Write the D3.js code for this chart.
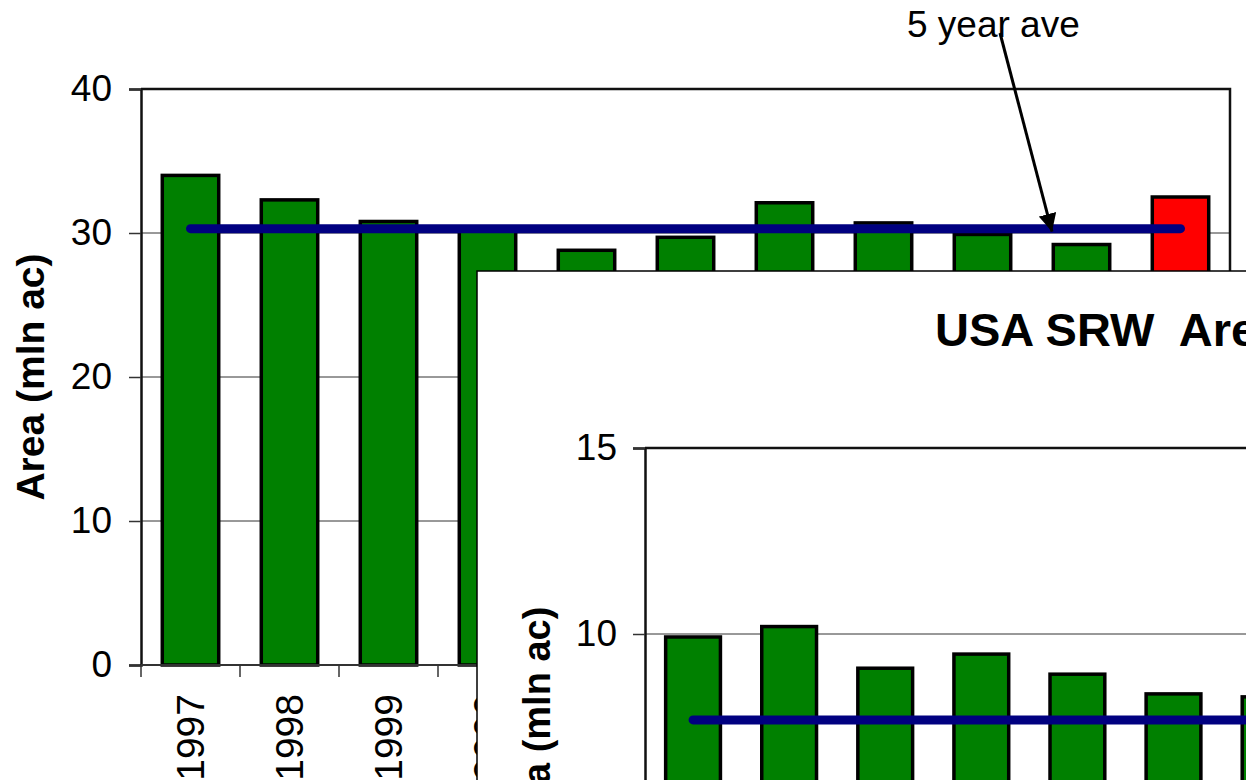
<!DOCTYPE html>
<html>
<head>
<meta charset="utf-8">
<script src="https://cdn.jsdelivr.net/npm/d3@7"></script>
<style>
  body { margin: 0; background: #fff; }
  svg { display: block; }
  text { font-family: Arial, "Liberation Sans", sans-serif; fill: #000; }
</style>
</head>
<body>
<svg width="1246" height="780"></svg>
<script>
// years on the x axis (both charts)
var years = ["1997", "1998", "1999", "2000", "2001", "2002", "2003", "2004", "2005", "2006", "2007"];

// total wheat area, mln ac (back chart), last bar is the current year
var totalArea = [34.0, 32.3, 30.8, 30.4, 28.8, 29.7, 32.1, 30.7, 29.9, 29.2, 32.5];
var totalAve = 30.3;
var totalTicks = [0, 10, 20, 30, 40];

// SRW area, mln ac (front chart, only the first bars are visible)
var srwArea = [9.92, 10.2, 9.08, 9.46, 8.92, 8.39, 8.31];
var srwAve = 7.69;
var srwTicks = [0, 5, 10, 15];

var svg = d3.select("svg");

// draw one excel-style column chart
function drawChart(g, cfg) {

  var x = d3.scaleBand()
            .domain(years)
            .range([cfg.left, cfg.left + cfg.width])
            .paddingInner(0.43)
            .paddingOuter(0.215);

  var y = d3.scaleLinear()
            .domain([0, cfg.max])
            .range([cfg.top + cfg.height, cfg.top]);

  // gridlines
  g.append("g")
   .selectAll("line")
   .data(cfg.ticks.filter(function(d) { return d > 0 && d < cfg.max; }))
   .enter()
   .append("line")
   .attr("x1", cfg.left).attr("x2", cfg.left + cfg.width)
   .attr("y1", function(d) { return y(d); })
   .attr("y2", function(d) { return y(d); })
   .style("stroke", "#333")
   .style("stroke-width", 1);

  // plot frame (top + right)
  g.append("path")
   .attr("d", "M" + cfg.left + "," + y(cfg.max) + "H" + (cfg.left + cfg.width) + "V" + y(0))
   .style("fill", "none")
   .style("stroke", "#111")
   .style("stroke-width", 2.5);

  // y axis
  var yAxis = d3.axisLeft(y)
                .tickValues(cfg.ticks)
                .tickSize(cfg.tick)
                .tickPadding(cfg.pad);
  var ya = g.append("g")
            .attr("transform", "translate(" + cfg.left + ",0)")
            .call(yAxis);
  ya.select(".domain").style("stroke", "#111").style("stroke-width", 2.5);
  ya.selectAll(".tick line").style("stroke", "#333").style("stroke-width", 1.5);
  ya.selectAll(".tick text")
    .style("font-size", cfg.font + "px")
    .style("font-family", "Arial, 'Liberation Sans', sans-serif");

  // bars
  g.append("g")
   .selectAll("rect")
   .data(cfg.values)
   .enter()
   .append("rect")
   .attr("x", function(d, i) { return x(years[i]); })
   .attr("y", function(d) { return y(d); })
   .attr("width", x.bandwidth())
   .attr("height", function(d) { return y(0) - y(d); })
   .style("fill", function(d, i) { return i === 10 ? "#ff0000" : "#008000"; })
   .style("stroke", "#000")
   .style("stroke-width", 3.5);

  // x axis with ticks between categories
  var xa = g.append("g")
            .attr("transform", "translate(0," + y(0) + ")");
  xa.append("line")
    .attr("x1", cfg.left).attr("x2", cfg.left + cfg.width)
    .style("stroke", "#333").style("stroke-width", 2);
  xa.selectAll("line.tk")
    .data(d3.range(years.length + 1))
    .enter()
    .append("line")
    .attr("class", "tk")
    .attr("x1", function(i) { return cfg.left + i * x.step(); })
    .attr("x2", function(i) { return cfg.left + i * x.step(); })
    .attr("y1", 0).attr("y2", cfg.tick)
    .style("stroke", "#333").style("stroke-width", 1.5);
  xa.selectAll("text")
    .data(years)
    .enter()
    .append("text")
    .attr("transform", function(d) {
      return "translate(" + (x(d) + x.bandwidth() / 2) + "," + (cfg.tick + cfg.xpad) + ") rotate(-90)";
    })
    .attr("dy", "0.35em")
    .style("text-anchor", "end")
    .style("font-size", (cfg.font + 2) + "px")
    .text(function(d) { return d; });

  // 5 year average line
  var line = d3.line()
               .x(function(d) { return x(d) + x.bandwidth() / 2; })
               .y(function() { return y(cfg.ave); });
  g.append("path")
   .datum([years[0], years[years.length - 1]])
   .attr("d", line)
   .style("fill", "none")
   .style("stroke", "#000080")
   .style("stroke-width", cfg.lineW)
   .style("stroke-linecap", "round");

  // y label
  g.append("text")
   .attr("transform", "translate(" + cfg.labelX + "," + (cfg.top + cfg.height / 2) + ") rotate(-90)")
   .attr("dy", "0.35em")
   .style("text-anchor", "middle")
   .style("font-weight", "bold")
   .style("font-size", cfg.labelFont + "px")
   .text("Area (mln ac)");

  return {x: x, y: y};
}

// back chart: total area
var back = svg.append("g").attr("id", "back");
var s1 = drawChart(back, {
  left: 141, top: 89, width: 1089, height: 576,
  max: 40, ticks: totalTicks, values: totalArea, ave: totalAve,
  tick: 12, pad: 17, xpad: 17, font: 37, labelFont: 39, labelX: 30, lineW: 9
});

// annotation arrow
var defs = svg.append("defs");
defs.append("marker")
    .attr("id", "head")
    .attr("viewBox", "0 0 10 10")
    .attr("refX", 10).attr("refY", 5)
    .attr("markerWidth", 6).attr("markerHeight", 6)
    .attr("markerUnits", "strokeWidth")
    .attr("orient", "auto")
    .append("path")
    .attr("d", "M0,0L10,5L0,10Z")
    .style("fill", "#000");

back.append("line")
    .attr("x1", 1000).attr("y1", 33)
    .attr("x2", 1052).attr("y2", s1.y(totalAve) + 3)
    .style("stroke", "#000")
    .style("stroke-width", 3)
    .attr("marker-end", "url(#head)");

back.append("text")
    .attr("x", 907).attr("y", 37)
    .style("font-size", "37px")
    .text("5 year ave");

// front chart: SRW area, drawn on a white card
var front = svg.append("g").attr("id", "front");
front.append("rect")
     .attr("x", 477).attr("y", 271)
     .attr("width", 900).attr("height", 600)
     .style("fill", "#fff")
     .style("stroke", "#000")
     .style("stroke-width", 1.5);

front.append("text")
     .attr("x", 935).attr("y", 346)
     .attr("xml:space", "preserve")
     .style("white-space", "pre")
     .style("font-weight", "bold")
     .style("font-size", "47px")
     .text("USA SRW  Area");

drawChart(front, {
  left: 645, top: 448, width: 1057, height: 558,
  max: 15, ticks: srwTicks, values: srwArea, ave: srwAve,
  tick: 12, pad: 16, xpad: 17, font: 37, labelFont: 38, labelX: 537, lineW: 9
});
</script>
</body>
</html>
